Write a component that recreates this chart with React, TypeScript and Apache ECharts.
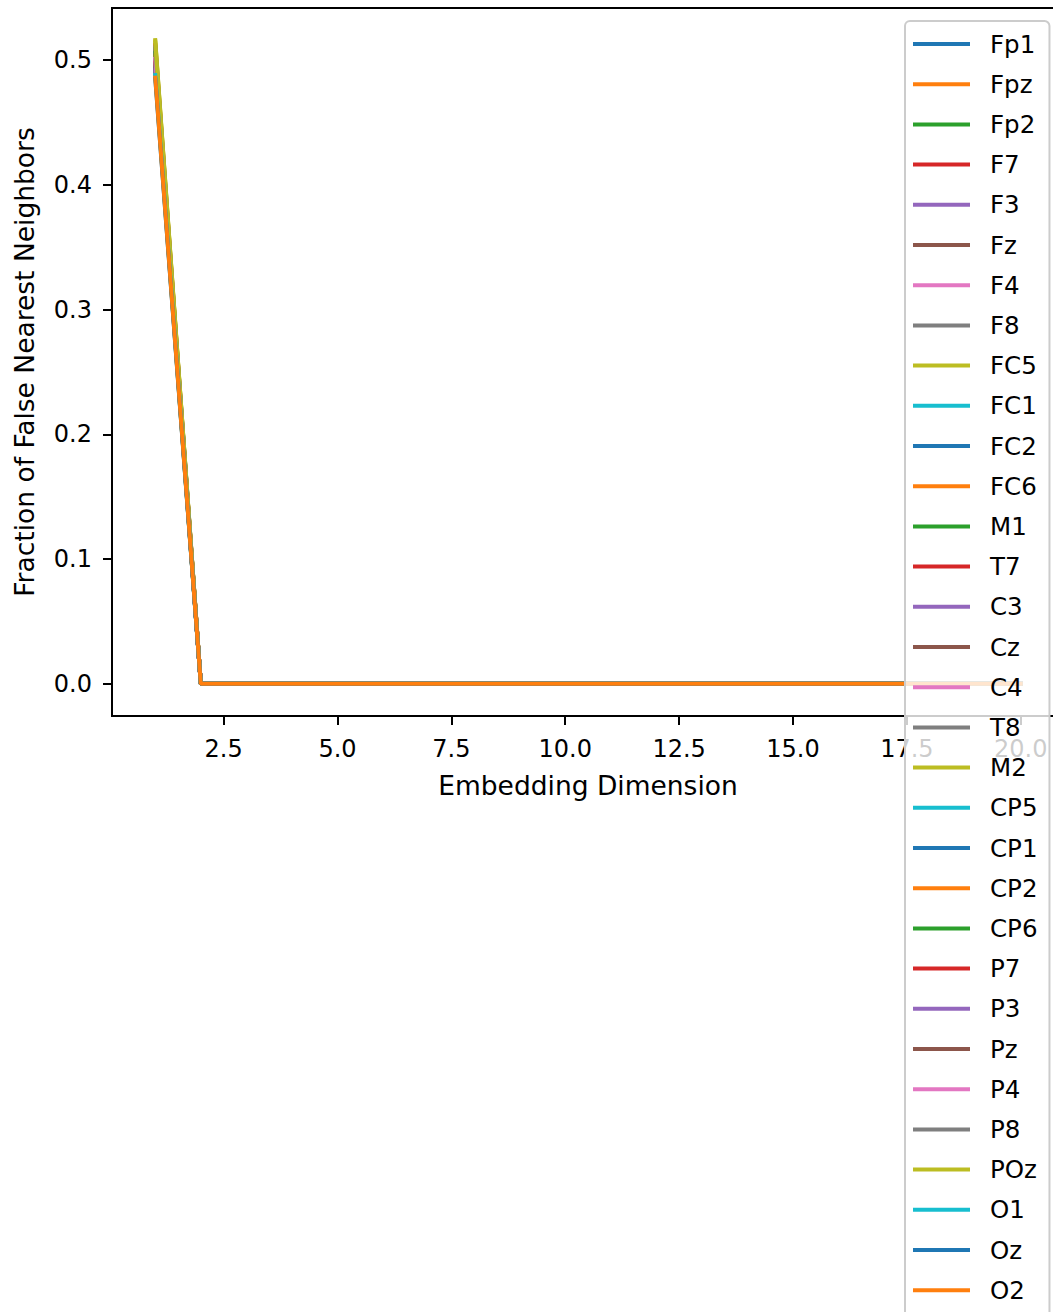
import React, { useEffect, useRef } from "react";
import * as echarts from "echarts";

const channels = [
  "Fp1", "Fpz", "Fp2", "F7", "F3", "Fz", "F4", "F8", "FC5", "FC1", "FC2", "FC6",
  "M1", "T7", "C3", "Cz", "C4", "T8", "M2", "CP5", "CP1", "CP2", "CP6", "P7",
  "P3", "Pz", "P4", "P8", "POz", "O1", "Oz", "O2",
];

// Fraction of false nearest neighbours at embedding dimension 1 (per channel)
const fnnAtDim1 = [
  0.497, 0.503, 0.495, 0.509, 0.501, 0.498, 0.505, 0.511, 0.515, 0.493, 0.499, 0.507,
  0.489, 0.512, 0.496, 0.491, 0.502, 0.508, 0.516, 0.494, 0.5, 0.504, 0.506, 0.498,
  0.492, 0.497, 0.501, 0.51, 0.514, 0.488, 0.485, 0.486,
];

// Embedding dimensions 1..20
const dimensions = [1, 2, 3, 4, 5, 6, 7, 8, 9, 10, 11, 12, 13, 14, 15, 16, 17, 18, 19, 20];
// Fraction at dimensions 2..20 (all zero)
const fnnAfterDim1 = [0, 0, 0, 0, 0, 0, 0, 0, 0, 0, 0, 0, 0, 0, 0, 0, 0, 0, 0];

const xTicks = [2.5, 5, 7.5, 10, 12.5, 15, 17.5, 20];
const yTicks = [0, 0.1, 0.2, 0.3, 0.4, 0.5];

const tab10 = [
  "#1f77b4", "#ff7f0e", "#2ca02c", "#d62728", "#9467bd",
  "#8c564b", "#e377c2", "#7f7f7f", "#bcbd22", "#17becf",
];

const FONT = "DejaVu Sans";

export default function App() {
  const ref = useRef<HTMLDivElement>(null);

  useEffect(() => {
    if (!ref.current) return;
    const chart = echarts.init(ref.current, null, { renderer: "svg" });

    const series = channels.map((name, i) => {
      const values = [fnnAtDim1[i], ...fnnAfterDim1];
      return {
        name,
        type: "line",
        data: dimensions.map((d, k) => [d, values[k]]),
        symbol: "none",
        showSymbol: false,
        lineStyle: { width: 4, color: tab10[i % 10], cap: "square" },
        itemStyle: { color: tab10[i % 10] },
        emphasis: { disabled: true },
      };
    });

    chart.setOption({
      animation: false,
      textStyle: { fontFamily: FONT },
      grid: {
        left: 112,
        top: 8,
        width: 952,
        height: 708,
        show: true,
        borderColor: "#000",
        borderWidth: 2,
        backgroundColor: "transparent",
      },
      xAxis: {
        type: "value",
        min: 0.05,
        max: 20.95,
        name: "Embedding Dimension",
        nameLocation: "middle",
        nameGap: 56,
        nameTextStyle: { fontSize: 26.5, color: "#000", fontFamily: FONT },
        axisLine: { show: true, onZero: false, lineStyle: { color: "#000", width: 2 } },
        axisTick: {
          show: true,
          length: 9,
          lineStyle: { color: "#000", width: 2 },
          customValues: xTicks,
        },
        axisLabel: {
          fontSize: 24,
          color: "#000",
          fontFamily: FONT,
          margin: 21,
          customValues: xTicks,
          formatter: (v: number) => v.toFixed(1),
        },
        splitLine: { show: false },
      },
      yAxis: {
        type: "value",
        min: -0.0258,
        max: 0.5418,
        name: "Fraction of False Nearest Neighbors",
        nameLocation: "middle",
        nameGap: 74,
        nameTextStyle: { fontSize: 26.5, color: "#000", fontFamily: FONT },
        axisLine: { show: true, onZero: false, lineStyle: { color: "#000", width: 2 } },
        axisTick: {
          show: true,
          length: 9,
          lineStyle: { color: "#000", width: 2 },
          customValues: yTicks,
        },
        axisLabel: {
          fontSize: 24,
          color: "#000",
          fontFamily: FONT,
          margin: 20,
          customValues: yTicks,
          formatter: (v: number) => v.toFixed(1),
        },
        splitLine: { show: false },
      },
      legend: {
        show: true,
        orient: "vertical",
        left: 905,
        top: 21,
        icon: "rect",
        itemWidth: 57,
        itemHeight: 4,
        itemGap: 12.2,
        padding: [9, 12, 30, 8],
        backgroundColor: "rgba(255,255,255,0.8)",
        borderColor: "#cccccc",
        borderWidth: 2,
        borderRadius: 5,
        selectedMode: false,
        textStyle: {
          fontSize: 24.5,
          color: "#000",
          fontFamily: FONT,
          lineHeight: 28,
          padding: [0, 0, 0, 15],
        },
        data: channels,
      },
      series,
    });

    return () => chart.dispose();
  }, []);

  return (
    <div
      style={{
        position: "fixed",
        left: 0,
        top: 0,
        width: 1053,
        height: 1312,
        overflow: "hidden",
        background: "#fff",
      }}
    >
      <div ref={ref} style={{ width: 1100, height: 1360 }} />
    </div>
  );
}
